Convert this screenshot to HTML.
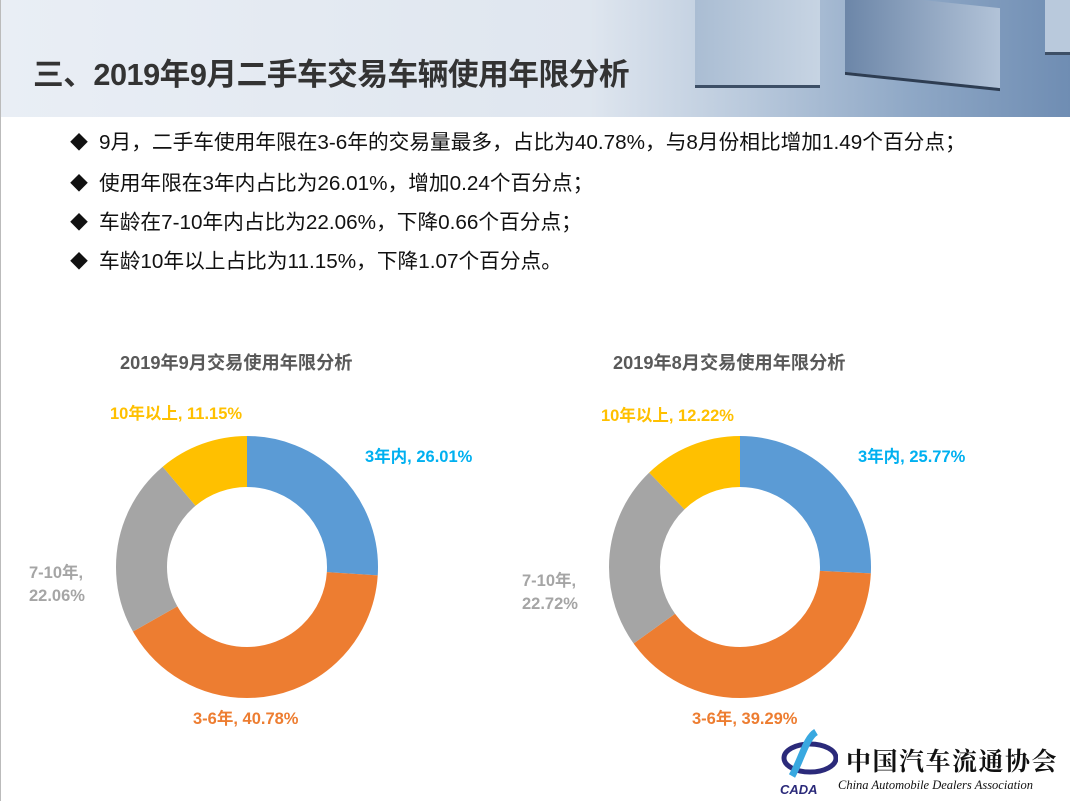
<!DOCTYPE html>
<html><head><meta charset="utf-8"><style>
body{margin:0;width:1070px;height:801px;overflow:hidden;background:#fff;font-family:"Liberation Sans","Noto Sans CJK SC",sans-serif;position:relative}
.hdr{position:absolute;left:0;top:0;width:1070px;height:117px;background:linear-gradient(90deg,#e9eef5 0%,#dfe6ef 55%,#b9c9dc 70%,#8fa8c6 85%,#6f8db3 100%)}
.title{position:absolute;left:33px;top:49px;font-size:30.7px;font-weight:bold;color:#333;letter-spacing:-0.5px}
.b{position:absolute;left:70px;font-size:20.7px;color:#111;white-space:nowrap}
.b span{display:inline-block;width:29px;font-size:18px}
.lbl{position:absolute;font-size:16.5px;font-weight:bold;white-space:nowrap}
.ct{position:absolute;font-size:18.2px;font-weight:bold;color:#595959;white-space:nowrap}
.lb{position:absolute;left:0;top:0;width:1px;height:801px;background:#bbb}
</style></head><body>
<div class="hdr">
<div style="position:absolute;left:695px;top:0;width:125px;height:85px;background:linear-gradient(90deg,#aabdd3,#c7d4e3);border-bottom:3px solid #3d4f66"></div>
<div style="position:absolute;left:845px;top:0;width:155px;height:80px;background:linear-gradient(90deg,#6c86a8,#b2c3d8);transform:skewY(6deg);border-bottom:3px solid #2e3d52"></div>
<div style="position:absolute;left:1045px;top:0;width:25px;height:52px;background:#b9c9dc;border-bottom:3px solid #3d4f66"></div>
</div>
<div class="lb"></div>
<div class="title">三、2019年9月二手车交易车辆使用年限分析</div>
<div class="b" style="top:125px"><span>◆</span>9月，二手车使用年限在3-6年的交易量最多，占比为40.78%，与8月份相比增加1.49个百分点；</div>
<div class="b" style="top:166px"><span>◆</span>使用年限在3年内占比为26.01%，增加0.24个百分点；</div>
<div class="b" style="top:205px"><span>◆</span>车龄在7-10年内占比为22.06%，下降0.66个百分点；</div>
<div class="b" style="top:244px"><span>◆</span>车龄10年以上占比为11.15%，下降1.07个百分点。</div>

<div class="ct" style="left:120px;top:349px">2019年9月交易使用年限分析</div>
<div class="ct" style="left:613px;top:349px">2019年8月交易使用年限分析</div>

<svg width="1070" height="801" style="position:absolute;left:0;top:0">
<g transform="translate(247,567) rotate(-90)" fill="none" stroke-width="51">
<circle r="105.5" stroke="#5B9BD5" stroke-dasharray="172.4 1000"/>
<circle r="105.5" stroke="#ED7D31" stroke-dasharray="270.3 1000" stroke-dashoffset="-172.4"/>
<circle r="105.5" stroke="#A5A5A5" stroke-dasharray="146.2 1000" stroke-dashoffset="-442.7"/>
<circle r="105.5" stroke="#FFC000" stroke-dasharray="74.0 1000" stroke-dashoffset="-588.9"/>
</g>
<g transform="translate(740,567) rotate(-90)" fill="none" stroke-width="51">
<circle r="105.5" stroke="#5B9BD5" stroke-dasharray="170.8 1000"/>
<circle r="105.5" stroke="#ED7D31" stroke-dasharray="260.4 1000" stroke-dashoffset="-170.8"/>
<circle r="105.5" stroke="#A5A5A5" stroke-dasharray="150.6 1000" stroke-dashoffset="-431.2"/>
<circle r="105.5" stroke="#FFC000" stroke-dasharray="81.0 1000" stroke-dashoffset="-581.8"/>
</g>
</svg>

<div class="lbl" style="left:110px;top:400px;color:#FFC000">10年以上, 11.15%</div>
<div class="lbl" style="left:365px;top:443px;color:#00B0F0">3年内, 26.01%</div>
<div class="lbl" style="left:29px;top:559px;color:#A5A5A5">7-10年,<br><span style="position:relative;top:4px">22.06%</span></div>
<div class="lbl" style="left:193px;top:705px;color:#ED7D31">3-6年, 40.78%</div>

<div class="lbl" style="left:601px;top:402px;color:#FFC000">10年以上, 12.22%</div>
<div class="lbl" style="left:858px;top:443px;color:#00B0F0">3年内, 25.77%</div>
<div class="lbl" style="left:522px;top:567px;color:#A5A5A5">7-10年,<br><span style="position:relative;top:4px">22.72%</span></div>
<div class="lbl" style="left:692px;top:705px;color:#ED7D31">3-6年, 39.29%</div>

<svg width="60" height="70" style="position:absolute;left:778px;top:728px">
<ellipse cx="32" cy="30" rx="26" ry="14" fill="none" stroke="#2b2a7a" stroke-width="5"/>
<path d="M38 4 C28 10 24 30 14 48" stroke="#38a8e0" stroke-width="7" fill="none"/>
<text x="2" y="66" font-size="13" font-weight="bold" font-style="italic" fill="#2b2a7a" font-family="Liberation Sans">CADA</text>
</svg>
<div style="position:absolute;left:846px;top:742px;font-size:25px;font-weight:bold;color:#111;letter-spacing:1.5px;font-family:'Noto Serif CJK SC',serif;white-space:nowrap">中国汽车流通协会</div>
<div style="position:absolute;left:838px;top:778px;font-size:12.5px;font-style:italic;color:#111;font-family:'Liberation Serif',serif;white-space:nowrap">China Automobile Dealers Association</div>
</body></html>
